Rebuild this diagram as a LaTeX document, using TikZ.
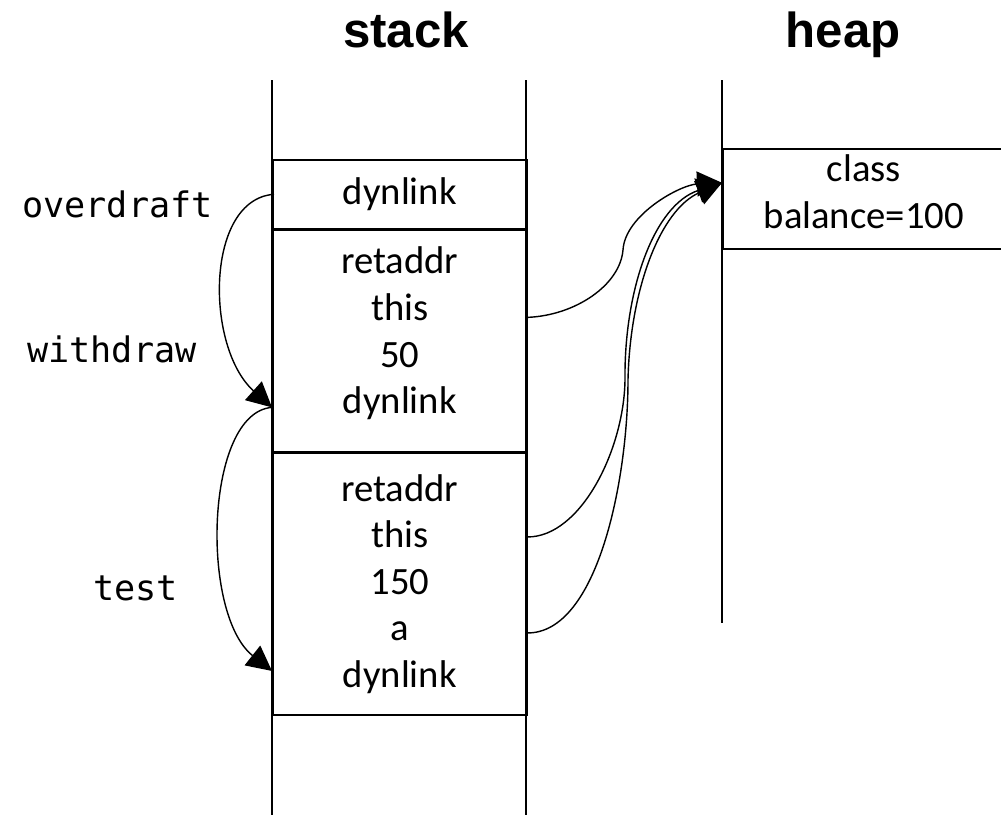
\documentclass[tikz,border=0pt]{standalone}
\usepackage{fontspec}
\setmainfont{Carlito}
\newfontfamily\titlefont{Liberation Sans}
\newfontfamily\labelfont{DejaVu Sans Mono}
\usetikzlibrary{arrows.meta}

\begin{document}
\begin{tikzpicture}[x=0.2mm,y=-0.2mm]
  \newcommand{\stackwidth}[0]{50.8mm}
  \newcommand{\heapwidth}[0]{56.4mm}
  \newcommand{\colheight}[0]{18mm}

  \useasboundingbox (0,0) rectangle (1001,815);

  \tikzstyle{frame}=[
    rectangle,
    draw,
    line width=0.9pt,
    anchor=north west,
    align=center,
    inner sep=0pt,
    minimum width=\stackwidth,
    font=\fontsize{22}{26.5}\selectfont,
  ]
  \tikzstyle{cell} = [
    frame,
    minimum width=\heapwidth,
    minimum height=20mm,
    text depth=8pt,
  ]
  \tikzstyle{title} = [
    anchor=base,
    inner sep=0pt,
    font=\titlefont\bfseries\fontsize{28}{32}\selectfont,
  ]
  \tikzstyle{fname} = [
    anchor=base west,
    inner sep=0pt,
    font=\labelfont\fontsize{20}{24}\selectfont,
  ]
  \tikzstyle{col} = [
    line width=0.9pt,
  ]
  \tikzstyle{link} = [
    line width=0.8pt,
    -{Triangle[length=5mm,width=5mm]},
  ]

  % titles
  \node[title] (stack) at (406,47) {stack};
  \node[title] (heap) at (843,47) {heap};

  % columns
  \draw[col] (272,80) -- (272,830);
  \draw[col] (526,80) -- (526,830);
  \draw[col] (722,80) -- (722,623);

  % stack frames
  \node[frame,minimum height=13.8mm] (fI) at (272,159) {dynlink};
  \node[frame,minimum height=44.2mm,anchor=north,text depth=12pt] (fII)
    at (fI.south) {retaddr\\this\\50\\dynlink};
  \node[frame,minimum height=52.4mm,anchor=north] (fIII) at (fII.south)
    {retaddr\\this\\150\\a\\dynlink};

  % heap object
  \node[cell] (hI) at (722,148) {class\\balance=100};

  % function names
  \node[fname] (overdraft) at (22,217) {overdraft};
  \node[fname] (withdraw) at (27,362) {withdraw};
  \node[fname] (test) at (93,600) {test};

  % link points
  \coordinate (fIdyn) at ([xshift=0.4mm] fI.west);
  \coordinate (fIIdyn) at ([yshift=-13.3mm] fII.west);
  \coordinate (fIIIdyn) at ([yshift=-17.4mm] fIII.west);
  \coordinate (fIIthis) at ([yshift=4.7mm] fII.east);
  \coordinate (fIIIthis) at ([yshift=9.4mm] fIII.east);
  \coordinate (fIIIa) at ([yshift=-9.8mm] fIII.east);
  \coordinate (hIref) at ([yshift=3.2mm] hI.west);
  \coordinate (merge) at (625,380);

  % dynamic links
  \draw[link] (fIdyn) .. controls +(-69,5) and +(-67,-60) .. (fIIdyn);
  \draw[link] (fIIdyn) .. controls +(-67,5) and +(-72,-57) .. (fIIIdyn);

  % references to the object
  \draw[link] (fIIthis) .. controls +(48,-2) and +(-3,35) .. (623,250)
    .. controls +(2,-35) and +(-42,2) .. (hIref);
  \draw[link] (fIIIthis) .. controls +(53,0) and +(-1,70) .. (merge)
    .. controls +(-1,-90) and +(-68,22) .. (hIref);
  \draw[link] (fIIIa) .. controls +(70,0) and +(0,100) .. ([xshift=0.6mm] merge)
    .. controls +(2,-90) and +(-62,27) .. (hIref);
\end{tikzpicture}
\end{document}
